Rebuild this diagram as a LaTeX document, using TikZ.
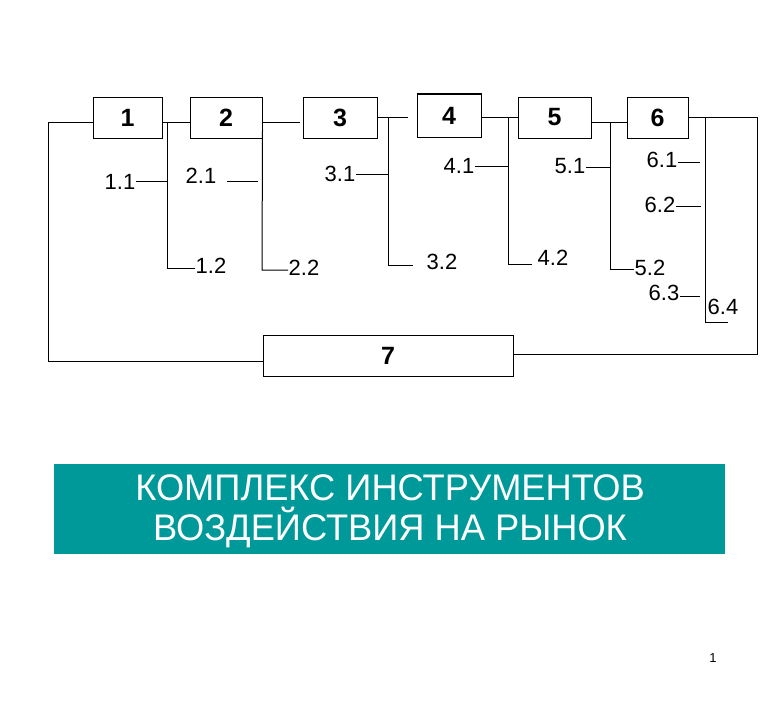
\documentclass[tikz,border=0pt]{standalone}
\usepackage{fontspec}
\setmainfont{Liberation Sans}
\definecolor{teal1}{RGB}{0,153,153}
\begin{document}
\begin{tikzpicture}[x=1pt,y=-1pt,line width=1pt,
  numbox/.style={draw,line width=1pt,inner sep=0pt,font=\fontsize{25}{28}\selectfont\bfseries,minimum height=41pt},
  lbl/.style={inner sep=0pt,font=\fontsize{22}{24}\selectfont},
  conn/.style={line width=1pt}]
\useasboundingbox (0,0) rectangle (766,709);
% boxes
\node[numbox,minimum width=69pt] (b1) at (127.5,117.5) {1};
\node[numbox,minimum width=72pt] (b2) at (226,117.5) {2};
\node[numbox,minimum width=74pt] (b3) at (340,117.5) {3};
\node[numbox,minimum width=64pt,minimum height=43pt] (b4) at (449,115.5) {4};
\node[numbox,minimum width=73pt] (b5) at (554.5,117.5) {5};
\node[numbox,minimum width=61pt] (b6) at (657.5,117.5) {6};
\node[numbox,minimum width=250pt] (b7) at (388,355.5) {7};
% labels
\node[lbl] (l11) at (120,182) {1.1};
\node[lbl] (l12) at (211,266) {1.2};
\node[lbl] (l21) at (201,176) {2.1};
\node[lbl] (l22) at (304,268) {2.2};
\node[lbl] (l31) at (340,174) {3.1};
\node[lbl] (l32) at (442,262) {3.2};
\node[lbl] (l41) at (459,166) {4.1};
\node[lbl] (l42) at (553,258) {4.2};
\node[lbl] (l51) at (570,166) {5.1};
\node[lbl] (l52) at (650,268) {5.2};
\node[lbl] (l61) at (662,160) {6.1};
\node[lbl] (l62) at (660,205) {6.2};
\node[lbl] (l63) at (664,293) {6.3};
\node[lbl] (l64) at (723,307) {6.4};
% feedback loop
\draw[conn] (b1.west |- 0,122) -- (48,122) -- (48,361) -- (b7.west |- 0,361);
\draw[conn] (b6.east |- 0,117) -- (757,117) -- (757,354) -- (b7.east |- 0,354);
% chain
\draw[conn] (b1.east |- 0,122) -- (b2.west |- 0,122);
\draw[conn] (b2.east |- 0,122) -- (300,122);
\draw[conn] (b3.east |- 0,117) -- (408,117);
\draw[conn] (b4.east |- 0,117) -- (b5.west |- 0,117);
\draw[conn] (b5.east |- 0,122) -- (b6.west |- 0,122);
% group 1
\draw[conn] (167,122) -- (167,268) -- (l12.west |- 0,268);
\draw[conn] (l11.east |- 0,181) -- (167,181);
% group 2
\draw[conn] (b2.east |- 0,130) -- (262,270) -- (l22.west |- 0,270);
\draw[conn] (227,181) -- (258,181);
% group 3
\draw[conn] (388,117) -- (388,265) -- (413,265);
\draw[conn] (l31.east |- 0,174) -- (388,174);
% group 4
\draw[conn] (508,117) -- (508,264) -- (532,264);
\draw[conn] (l41.east |- 0,166) -- (508,166);
% group 5
\draw[conn] (610,122) -- (610,269) -- (l52.west |- 0,269);
\draw[conn] (l51.east |- 0,167) -- (610,167);
% group 6
\draw[conn] (705,117) -- (705,322) -- (728,322);
\draw[conn] (l61.east |- 0,162) -- (700,162);
\draw[conn] (l62.east |- 0,206) -- (701,206);
\draw[conn] (l63.east |- 0,296) -- (700,296);
% title banner
\fill[teal1] (54,464) rectangle (725,554);
\node[text=white,align=center,inner sep=0pt,font=\fontsize{37}{40}\selectfont] (title) at (390,511) {\scalebox{0.98}[1]{КОМПЛЕКС ИНСТРУМЕНТОВ}\\\scalebox{0.98}[1]{ВОЗДЕЙСТВИЯ НА РЫНОК}};
% page number
\node[inner sep=0pt,font=\fontsize{13}{14}\selectfont] (pg) at (713,658) {1};
\end{tikzpicture}
\end{document}
